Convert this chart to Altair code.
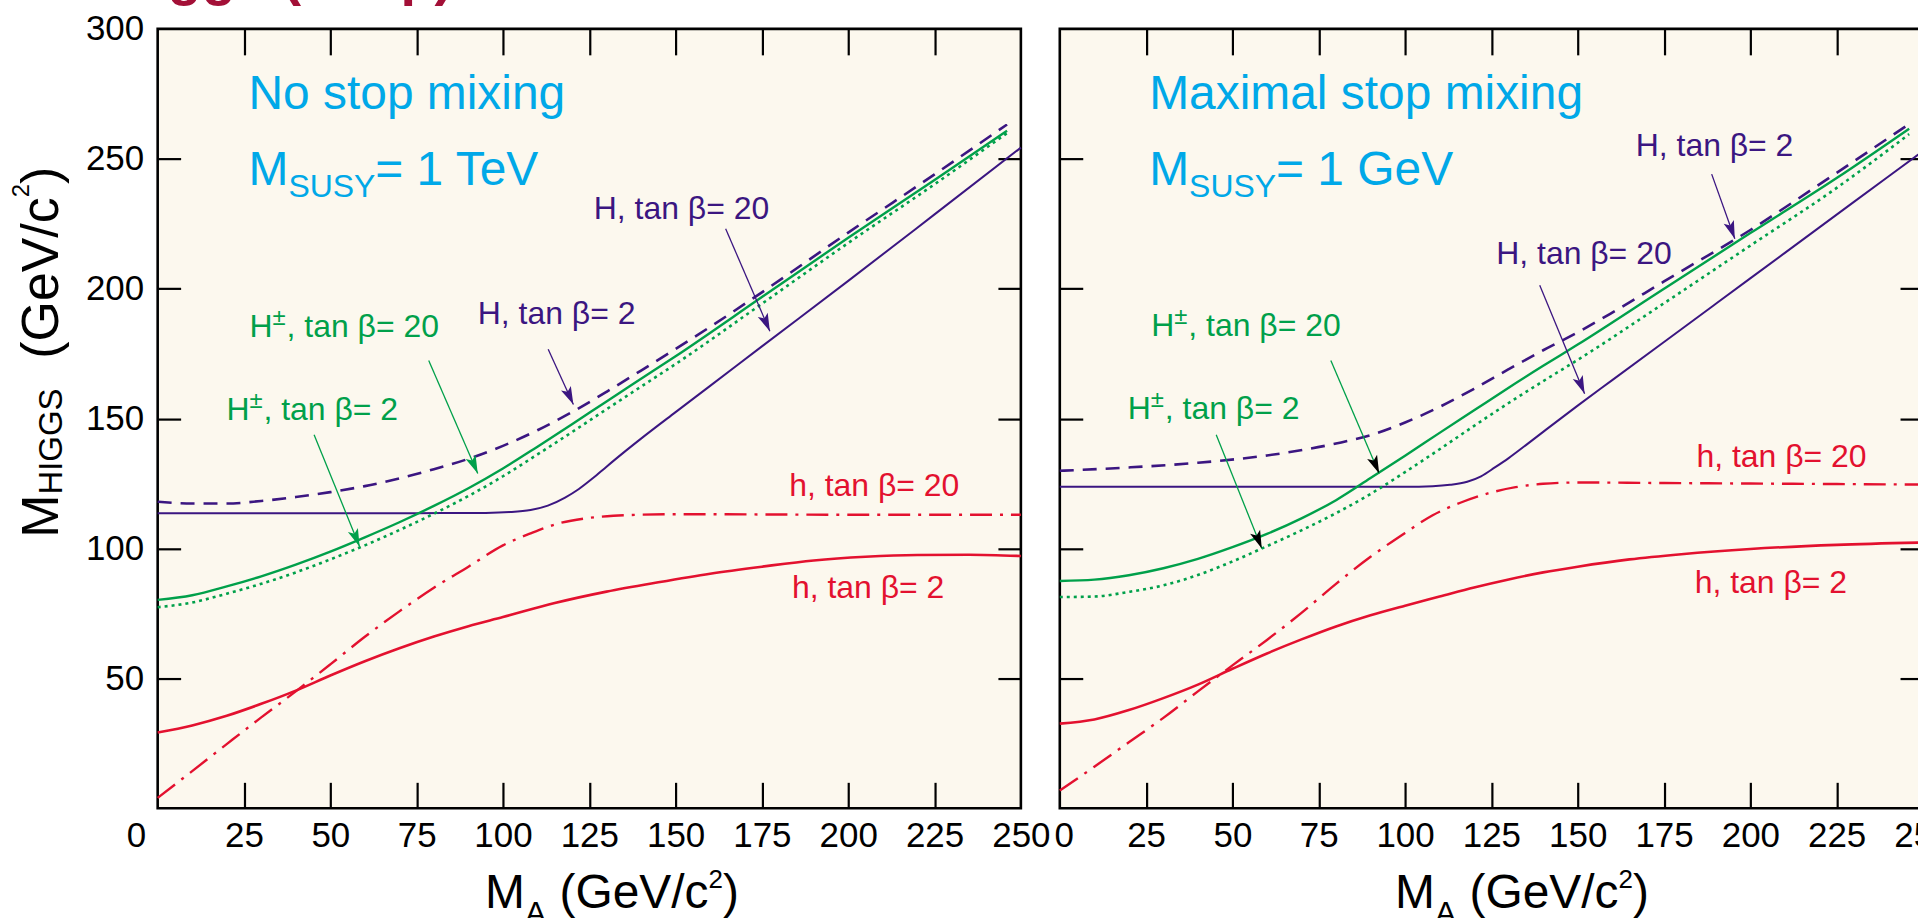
import math
import altair as alt
import pandas as pd

# ---------------------------------------------------------------- data
# Left panel: no stop mixing, M_SUSY = 1 TeV  (x = M_A, y = M_HIGGS, GeV/c^2)
L_h2_x = [0, 10, 20, 30, 40, 50, 60, 70, 80, 90, 100, 115, 130, 145, 160, 175, 190, 205, 220, 235, 250]
L_h2_y = [29.2, 31.9, 35.6, 40.2, 45.3, 51.1, 56.6, 61.6, 66.1, 70.1, 73.6, 79.0, 83.4, 87.0, 90.3, 93.0, 95.4, 96.8, 97.5, 97.6, 97.1]
L_h20_x = [0, 10, 20, 30, 40, 50, 60, 70, 80, 90, 100, 108, 116, 124, 132, 140, 150, 175, 200, 225, 250]
L_h20_y = [4.0, 14.3, 24.7, 35.0, 45.0, 55.4, 66.0, 75.8, 84.9, 93.0, 101.2, 105.8, 109.6, 111.6, 112.6, 113.0, 113.2, 113.1, 113.0, 113.0, 113.0]
L_H20_x = [0, 25, 50, 75, 95, 102, 108, 113, 118, 122, 126, 130, 135, 140, 150, 160, 175, 200, 225, 250]
L_H20_y = [113.6, 113.6, 113.6, 113.6, 113.7, 114.0, 114.8, 116.5, 119.6, 122.9, 127.0, 131.5, 137.0, 142.3, 152.5, 162.6, 177.8, 203.0, 228.6, 254.3]
L_H2_x = [0, 10, 20, 30, 40, 50, 60, 70, 80, 90, 100, 110, 120, 130, 140, 150, 160, 175, 200, 225, 246]
L_H2_y = [118.0, 117.3, 117.3, 118.3, 119.8, 121.7, 124.0, 127.0, 130.5, 134.5, 139.5, 145.5, 152.5, 160.3, 168.5, 176.8, 185.3, 198.6, 221.6, 244.0, 263.2]
L_Hc_x = [0, 10, 20, 30, 40, 50, 60, 70, 80, 90, 100, 110, 120, 130, 140, 150, 175, 200, 225, 246]
L_Hc20_y = [80.2, 82.0, 85.4, 89.3, 93.8, 98.8, 104.3, 110.1, 116.4, 123.2, 130.8, 139.2, 147.8, 156.6, 165.3, 174.0, 196.8, 219.6, 241.8, 260.8]
L_Hc2_y = [77.4, 79.2, 82.6, 86.4, 90.8, 95.8, 101.2, 107.1, 113.4, 120.2, 127.8, 136.2, 144.8, 153.6, 162.3, 171.0, 194.2, 217.6, 240.2, 259.9]

# Right panel: maximal stop mixing, M_SUSY = 1 GeV
R_h2_x = [0, 10, 20, 30, 40, 50, 60, 70, 80, 90, 100, 110, 120, 130, 140, 150, 165, 180, 200, 225, 250]
R_h2_y = [32.6, 34.2, 37.8, 42.4, 47.6, 53.7, 59.6, 65.0, 70.0, 74.3, 78.0, 81.5, 85.0, 88.1, 90.8, 93.0, 95.8, 97.8, 99.8, 101.4, 102.3]
R_h20_x = [0, 10, 20, 30, 40, 50, 60, 70, 80, 90, 100, 108, 116, 124, 132, 140, 150, 175, 200, 225, 250]
R_h20_y = [6.8, 16.0, 25.4, 34.8, 45.0, 55.0, 64.8, 75.2, 86.4, 96.8, 106.0, 112.8, 117.6, 121.2, 123.6, 124.9, 125.4, 125.2, 125.0, 124.8, 124.6]
R_H20_x = [0, 50, 100, 108, 113, 118, 122, 126, 130, 135, 140, 150, 160, 175, 190, 210, 230, 250]
R_H20_y = [123.8, 123.8, 123.8, 124.0, 124.5, 125.7, 127.8, 131.2, 134.8, 139.8, 144.9, 155.0, 164.8, 179.5, 194.2, 213.8, 233.4, 253.0]
R_H2_x = [0, 20, 40, 60, 80, 90, 100, 110, 120, 130, 140, 150, 160, 175, 200, 225, 246]
R_H2_y = [129.9, 131.2, 133.0, 135.8, 140.4, 143.6, 148.5, 154.5, 161.5, 169.0, 176.3, 183.2, 190.8, 202.8, 222.6, 244.6, 263.4]
R_Hc_x = [0, 10, 20, 30, 40, 50, 60, 70, 80, 90, 100, 110, 120, 130, 140, 150, 175, 200, 225, 246]
R_Hc20_y = [87.5, 88.0, 89.7, 92.4, 96.0, 100.5, 105.6, 111.6, 118.6, 127.1, 135.7, 144.5, 153.2, 161.9, 170.3, 178.5, 200.0, 221.4, 242.6, 261.6]
R_Hc2_y = [81.3, 81.5, 83.3, 85.8, 89.8, 95.0, 100.9, 107.0, 113.6, 121.0, 129.4, 138.2, 147.2, 156.0, 164.4, 172.6, 194.4, 216.6, 238.8, 259.5]

# annotation labels (anchor = start of baseline, in data units)
LABEL_TEXT = ["H±, tan β= 2", "H±, tan β= 20", "H, tan β= 2", "H, tan β= 20", "h, tan β= 20", "h, tan β= 2"]
LABEL_KIND = ["Hc", "Hc", "H", "H", "h", "h"]
L_label_x = [19.9, 26.6, 92.7, 126.3, 182.9, 183.7]
L_label_y = [149.5, 181.4, 186.5, 226.9, 120.3, 80.8]
R_label_x = [19.7, 26.5, 166.8, 126.4, 184.4, 183.9]
R_label_y = [150.0, 181.8, 251.2, 209.6, 131.4, 82.7]

# arrows: H±(2), H±(20), H(2), H(20)
ARROW_KIND = ["Hc", "Hc", "H", "H"]
L_arrow_x0 = [45.3, 78.5, 113.1, 164.5]
L_arrow_y0 = [143.8, 172.4, 176.7, 223.1]
L_arrow_x1 = [58.5, 92.7, 120.4, 177.3]
L_arrow_y1 = [100.7, 128.9, 155.4, 183.6]
R_arrow_x0 = [45.3, 78.5, 188.8, 139.0]
R_arrow_y0 = [143.8, 172.4, 244.1, 201.3]
R_arrow_x1 = [58.5, 92.5, 195.5, 152.0]
R_arrow_y1 = [100.0, 128.9, 219.2, 159.6]

PANEL_TITLE = {"L": ["No stop mixing", "1 TeV"], "R": ["Maximal stop mixing", "1 GeV"]}
TITLE_X = {"L": 26.3, "R": 25.9}
TITLE_Y = [269.0, 239.8]
XTITLE_X = {"L": 94.8, "R": 97.1}
XTITLE_Y = -38.4
YTITLE_X, YTITLE_Y = -28.9, 104.1
TOP_TITLE = "Higgs (tan β)"
TOP_TITLE_X, TOP_TITLE_Y = -13.3, 313.5

x_tick_labels = [0, 25, 50, 75, 100, 125, 150, 175, 200, 225, 250]
y_tick_labels = [50, 100, 150, 200, 250, 300]
x_minor = [25, 50, 75, 100, 125, 150, 175, 200, 225]
y_minor = [50, 100, 150, 200, 250]

# ---------------------------------------------------------------- style
PANEL_W, PANEL_H = 865, 781
X_DOMAIN, Y_DOMAIN = [0, 250], [0, 300]
PXX = PANEL_W / (X_DOMAIN[1] - X_DOMAIN[0])
PXY = PANEL_H / (Y_DOMAIN[1] - Y_DOMAIN[0])

BG = "#FCF8EE"
PURPLE = "#3B1681"
GREEN = "#00A04A"
RED = "#E3112F"
CYAN = "#00A8E8"
DARKRED = "#A31037"
BLACK = "#000000"
KIND_COLOR = {"Hc": GREEN, "H": PURPLE, "h": RED}
SANS = "Liberation Sans, Arial, Helvetica, sans-serif"

CURVE_STYLE = {
    "h2": dict(color=RED, strokeWidth=2.6),
    "h20": dict(color=RED, strokeWidth=2.4, strokeDash=[22, 8, 3, 8]),
    "H20": dict(color=PURPLE, strokeWidth=2.0),
    "H2": dict(color=PURPLE, strokeWidth=2.6, strokeDash=[14, 9]),
    "Hc20": dict(color=GREEN, strokeWidth=2.4),
    "Hc2": dict(color=GREEN, strokeWidth=2.6, strokeDash=[3, 4]),
}

ADV = {"H": .722, "±": .584, ",": .278, " ": .278, "t": .278, "a": .556, "n": .556, "β": .575,
       "=": .584, "2": .556, "0": .556, "h": .556, "M": .833, "S": .667, "U": .722, "Y": .667,
       "1": .556, "T": .611, "e": .556, "V": .667, "G": .778, "(": .333, ")": .333, "/": .278,
       "c": .5, "I": .278, "A": .667}


def adv(s, fs):
    return sum(ADV.get(ch, 0.556) for ch in s) * fs


def hpieces(x0, y0, pieces, color, face="reg"):
    """pieces: (text, font size, baseline shift px) or ("GAP", px)."""
    rows, off = [], 0.0
    for p in pieces:
        if p[0] == "GAP":
            off += p[1]
            continue
        txt, fs, dy = p
        rows.append(dict(x=x0 + off / PXX, y=y0 - dy / PXY, text=txt, color=color, fs=fs, angle=0, face=face))
        off += adv(txt, fs)
    return rows


def vpieces(x0, y0, pieces, color):
    """rotated text reading upwards; pieces: (text, size, shift px to the right) or ("GAP", px)."""
    rows, off = [], 0.0
    for p in pieces:
        if p[0] == "GAP":
            off += p[1]
            continue
        txt, fs, shift = p
        rows.append(dict(x=x0 + shift / PXX, y=y0 + off / PXY, text=txt, color=color, fs=fs, angle=270,
                         face="reg"))
        off += adv(txt, fs)
    return rows


def label_rows(xs, ys):
    rows = []
    for t, k, x, y in zip(LABEL_TEXT, LABEL_KIND, xs, ys):
        c = KIND_COLOR[k]
        if t.startswith("H±"):
            rows += hpieces(x, y, [("H", 32, 0), ("±", 24, -12), (t[2:], 32, 0)], c)
        else:
            rows += hpieces(x, y, [(t, 32, 0)], c)
    return rows


def arrow_df(x0, y0, x1, y1, head_colors):
    rows = []
    for a, b, c, d, k, hc in zip(x0, y0, x1, y1, ARROW_KIND, head_colors):
        dx = (c - a) * PXX
        dy = -(d - b) * PXY
        ang = math.degrees(math.atan2(-dx, dy)) % 360
        rows.append(dict(x0=a, y0=b, x1=c, y1=d, lc=KIND_COLOR[k], hc=hc, ang=ang))
    return pd.DataFrame(rows)


HEAD_PATH = "M0,0L-0.3,-1L0,-0.78L0.3,-1Z"
HEAD_SIZE = 1296


def panel(curves, arrows, texts, show_ylabels, zero_align, zero_offset):
    xs = alt.Scale(domain=X_DOMAIN, nice=False, zero=False)
    ys = alt.Scale(domain=Y_DOMAIN, nice=False, zero=False)
    ax_x_lab = alt.Axis(orient="bottom", values=x_tick_labels, ticks=False, domain=False, grid=False,
                        labelFont=SANS, labelFontSize=35, labelColor="black", labelPadding=10,
                        labelFlush=False, labelOverlap=False, title=None,
                        labelAlign={"condition": {"test": "datum.value == 0", "value": zero_align}, "value": "center"},
                        labelOffset={"condition": {"test": "datum.value == 0", "value": zero_offset}, "value": 0})
    ax_y_lab = None
    if show_ylabels:
        ax_y_lab = alt.Axis(orient="left", values=y_tick_labels, ticks=False, domain=False, grid=False,
                            labelFont=SANS, labelFontSize=35, labelColor="black", labelPadding=14,
                            labelOverlap=False, title=None)
    tk = dict(labels=False, domain=False, grid=False, ticks=True, tickColor="black", tickWidth=2.2,
              title=None, minExtent=0)
    axes = [
        (ax_x_lab, ax_y_lab),
        (alt.Axis(orient="top", offset=-PANEL_H, values=x_minor, tickSize=26, **tk),
         alt.Axis(orient="right", offset=-PANEL_W, values=y_minor, tickSize=23, **tk)),
        (alt.Axis(orient="bottom", offset=-PANEL_H, values=x_minor, tickSize=26, **tk),
         alt.Axis(orient="left", offset=-PANEL_W, values=y_minor, tickSize=23, **tk)),
    ]
    layers = []
    for i, (name, xv, yv) in enumerate(curves):
        ax_x, ax_y = axes[i] if i < len(axes) else (None, None)
        df = pd.DataFrame({"x": xv, "y": yv})
        layers.append(
            alt.Chart(df).mark_line(interpolate="monotone", strokeCap="butt", **CURVE_STYLE[name]).encode(
                x=alt.X("x:Q", scale=xs, axis=ax_x),
                y=alt.Y("y:Q", scale=ys, axis=ax_y),
            )
        )
    layers.append(
        alt.Chart(arrows).mark_rule(strokeWidth=1.3).encode(
            x=alt.X("x0:Q", scale=xs, axis=None), y=alt.Y("y0:Q", scale=ys, axis=None),
            x2="x1:Q", y2="y1:Q", color=alt.Color("lc:N", scale=None))
    )
    layers.append(
        alt.Chart(arrows).mark_point(shape=HEAD_PATH, filled=True, size=HEAD_SIZE, opacity=1).encode(
            x=alt.X("x1:Q", scale=xs, axis=None), y=alt.Y("y1:Q", scale=ys, axis=None),
            angle=alt.Angle("ang:Q", scale=None), color=alt.Color("hc:N", scale=None))
    )
    tdf = pd.DataFrame(texts)
    for face, weight in [("reg", "normal"), ("bold", "bold")]:
        sub = tdf[tdf["face"] == face]
        if len(sub) == 0:
            continue
        layers.append(
            alt.Chart(sub).mark_text(align="left", baseline="alphabetic", font=SANS, fontWeight=weight).encode(
                x=alt.X("x:Q", scale=xs, axis=None), y=alt.Y("y:Q", scale=ys, axis=None),
                text="text:N", color=alt.Color("color:N", scale=None),
                size=alt.Size("fs:Q", scale=None), angle=alt.Angle("angle:Q", scale=None))
        )
    return alt.layer(*layers).properties(width=PANEL_W, height=PANEL_H).resolve_axis(x="independent", y="independent")


def panel_texts(side):
    t = label_rows(L_label_x if side == "L" else R_label_x, L_label_y if side == "L" else R_label_y)
    t += hpieces(TITLE_X[side], TITLE_Y[0], [(PANEL_TITLE[side][0], 48, 0)], CYAN)
    t += hpieces(TITLE_X[side], TITLE_Y[1], [("M", 48, 0), ("SUSY", 32, 12), ("= " + PANEL_TITLE[side][1], 48, 0)], CYAN)
    t += hpieces(XTITLE_X[side], XTITLE_Y, [("M", 48, 0), ("A", 32, 16), ("GAP", 13.3), ("(GeV/c", 48, 0),
                                            ("2", 26, -20), (")", 48, 0)], BLACK)
    return t


left_texts = panel_texts("L")
left_texts += vpieces(YTITLE_X, YTITLE_Y, [("M", 52, 0), ("HIGGS", 33, 4), ("GAP", 29.8),
                                          ("(GeV/c", 52, 0), ("2", 24, -29), (")", 52, 0)], BLACK)
left_texts += [dict(x=TOP_TITLE_X, y=TOP_TITLE_Y, text=TOP_TITLE, color=DARKRED, fs=56, angle=0, face="bold")]
right_texts = panel_texts("R")

left_curves = [("h2", L_h2_x, L_h2_y), ("h20", L_h20_x, L_h20_y), ("H20", L_H20_x, L_H20_y),
               ("H2", L_H2_x, L_H2_y), ("Hc20", L_Hc_x, L_Hc20_y), ("Hc2", L_Hc_x, L_Hc2_y)]
right_curves = [("h2", R_h2_x, R_h2_y), ("h20", R_h20_x, R_h20_y), ("H20", R_H20_x, R_H20_y),
                ("H2", R_H2_x, R_H2_y), ("Hc20", R_Hc_x, R_Hc20_y), ("Hc2", R_Hc_x, R_Hc2_y)]

left_arrows = arrow_df(L_arrow_x0, L_arrow_y0, L_arrow_x1, L_arrow_y1, [GREEN, GREEN, PURPLE, PURPLE])
right_arrows = arrow_df(R_arrow_x0, R_arrow_y0, R_arrow_x1, R_arrow_y1, [BLACK, BLACK, PURPLE, PURPLE])

left = panel(left_curves, left_arrows, left_texts, True, "right", -12)
right = panel(right_curves, right_arrows, right_texts, False, "center", 4)

chart = alt.hconcat(
    left, right, spacing=39, bounds="flush",
    padding={"left": 8, "top": -54, "right": -36, "bottom": -11},
).configure_view(stroke="black", strokeWidth=2.6, fill=BG).configure_axis(grid=False)

chart.save("out.html", embed_options={"renderer": "svg", "actions": False})
